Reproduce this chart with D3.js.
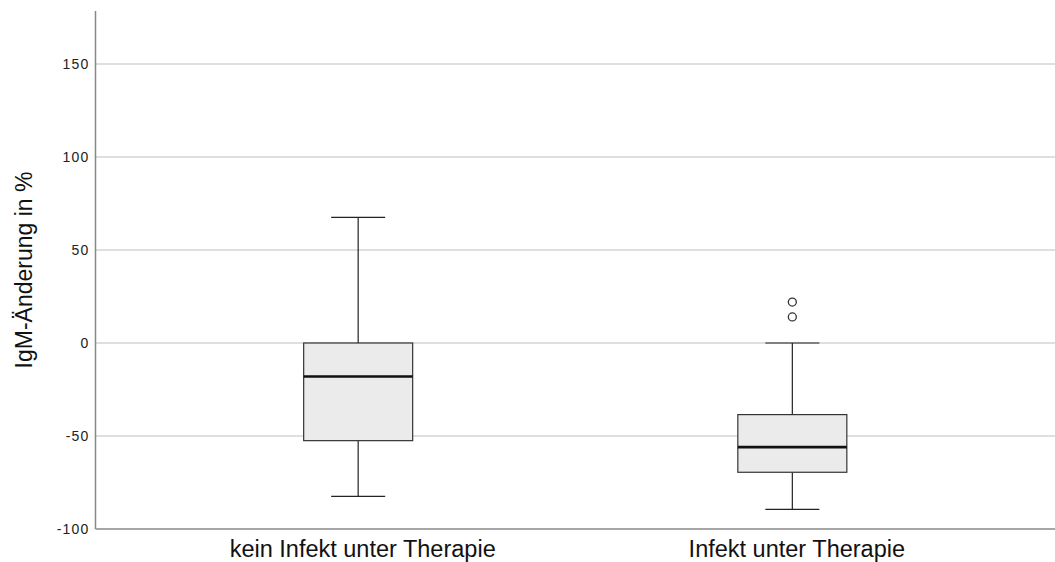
<!DOCTYPE html>
<html>
<head>
<meta charset="utf-8">
<script src="https://cdn.jsdelivr.net/npm/d3@7"></script>
<style>
  html, body { margin: 0; padding: 0; background: #fff; }
  svg { display: block; }
</style>
</head>
<body>
<svg id="chart" width="1055" height="562"></svg>
<script>
// Groups and their five-number summaries (IgM change in %)
const categories = ["kein Infekt unter Therapie", "Infekt unter Therapie"];
const whiskerLow  = [-82.5, -89.5];
const quartile1   = [-52.5, -69.5];
const medians     = [-18, -56];
const quartile3   = [0, -38.5];
const whiskerHigh = [67.5, 0];
// Outliers per group
const outliers    = [[], [22, 14]];
const yTicks      = [-100, -50, 0, 50, 100, 150];

(function () {
  const svg = d3.select("#chart");
  const plotLeft = 95.5, plotRight = 1055, plotTop = 11, plotBottom = 529;
  const font = "Liberation Sans, Arial, sans-serif";

  const y = d3.scaleLinear().domain([-100, 150]).range([plotBottom, plotBottom - 465]);
  const x = d3.scalePoint().domain(categories).range([plotLeft, plotRight]).padding(0.605);

  const boxes = categories.map((c, i) => ({
    cat: c, lo: whiskerLow[i], q1: quartile1[i], med: medians[i],
    q3: quartile3[i], hi: whiskerHigh[i], out: outliers[i]
  }));

  // Horizontal gridlines
  svg.append("g")
    .selectAll("line")
    .data(yTicks.filter(t => t !== -100))
    .join("line")
    .attr("x1", plotLeft).attr("x2", plotRight)
    .attr("y1", d => y(d)).attr("y2", d => y(d))
    .attr("stroke", "#c0c0c0").attr("stroke-width", 1.2);

  // Y axis tick labels (plain hyphen for negatives)
  const yAxis = d3.axisLeft(y).tickValues(yTicks).tickSize(0).tickPadding(6)
    .tickFormat(d => String(d));
  const gy = svg.append("g").attr("transform", `translate(${plotLeft},0)`).call(yAxis);
  gy.select(".domain").remove();
  gy.selectAll("text")
    .attr("font-family", font)
    .attr("font-size", 14)
    .attr("letter-spacing", "1.2px")
    .attr("fill", "#222");

  // Axis lines
  svg.append("line").attr("x1", plotLeft).attr("x2", plotLeft).attr("y1", plotTop).attr("y2", plotBottom)
    .attr("stroke", "#888").attr("stroke-width", 1.5);
  svg.append("line").attr("x1", plotLeft).attr("x2", plotRight).attr("y1", plotBottom).attr("y2", plotBottom)
    .attr("stroke", "#888").attr("stroke-width", 1.5);

  // Category labels
  const xAxis = d3.axisBottom(x).tickSize(0).tickPadding(11.5);
  const gx = svg.append("g").attr("transform", `translate(0,${plotBottom})`).call(xAxis);
  gx.select(".domain").remove();
  gx.selectAll("text")
    .attr("font-family", font)
    .attr("font-size", 23.5)
    .attr("dx", 4)
    .attr("fill", "#111");

  // Y axis title
  svg.append("text")
    .attr("transform", `translate(32,${(plotTop + plotBottom) / 2}) rotate(-90)`)
    .attr("text-anchor", "middle")
    .attr("font-family", font)
    .attr("font-size", 23)
    .attr("fill", "#111")
    .text("IgM-Änderung in %");

  // Boxplots
  const boxW = 109, capW = 54;
  const g = svg.append("g").selectAll("g").data(boxes).join("g")
    .attr("transform", d => `translate(${x(d.cat)},0)`);

  g.append("line").attr("x1", 0).attr("x2", 0)
    .attr("y1", d => y(d.hi)).attr("y2", d => y(d.q3))
    .attr("stroke", "#222").attr("stroke-width", 1.2);
  g.append("line").attr("x1", 0).attr("x2", 0)
    .attr("y1", d => y(d.q1)).attr("y2", d => y(d.lo))
    .attr("stroke", "#222").attr("stroke-width", 1.2);
  g.append("line").attr("x1", -capW / 2).attr("x2", capW / 2)
    .attr("y1", d => y(d.hi)).attr("y2", d => y(d.hi))
    .attr("stroke", "#222").attr("stroke-width", 1.2);
  g.append("line").attr("x1", -capW / 2).attr("x2", capW / 2)
    .attr("y1", d => y(d.lo)).attr("y2", d => y(d.lo))
    .attr("stroke", "#222").attr("stroke-width", 1.2);
  g.append("rect")
    .attr("x", -boxW / 2).attr("width", boxW)
    .attr("y", d => y(d.q3)).attr("height", d => y(d.q1) - y(d.q3))
    .attr("fill", "#ebebeb").attr("stroke", "#333").attr("stroke-width", 1.2);
  g.append("line").attr("x1", -boxW / 2).attr("x2", boxW / 2)
    .attr("y1", d => y(d.med)).attr("y2", d => y(d.med))
    .attr("stroke", "#111").attr("stroke-width", 2.6);
  g.selectAll("circle").data(d => d.out).join("circle")
    .attr("cx", 0).attr("cy", d => y(d)).attr("r", 4)
    .attr("fill", "none").attr("stroke", "#333").attr("stroke-width", 1.3);
})();
</script>
</body>
</html>
